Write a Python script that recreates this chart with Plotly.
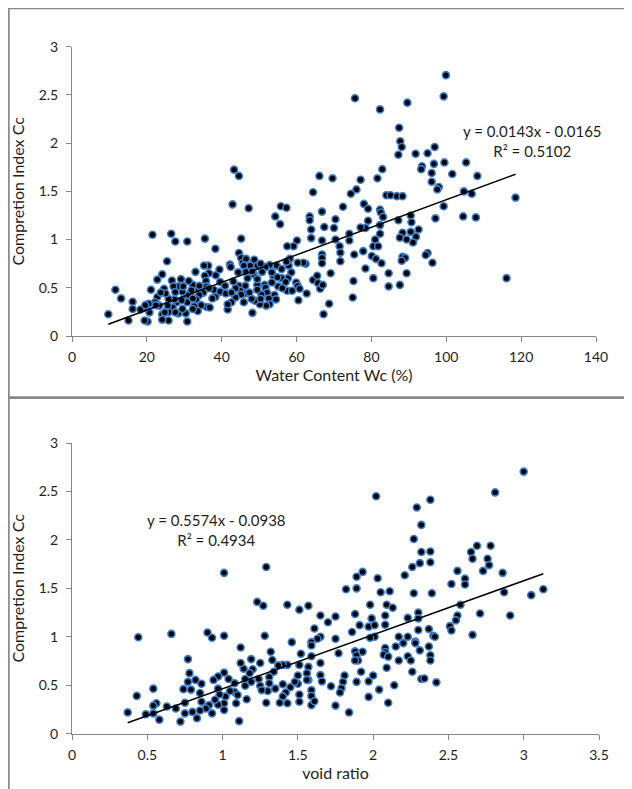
import numpy as np
import plotly.graph_objects as go

# ---------------- data: top panel (water content vs Cc) ----------------
wc = [99.9, 99.3, 75.6, 82.3, 89.6, 87.4, 87.7, 88.1, 87.2, 91.8, 95.0, 96.9, 99.5, 105.3, 96.7,
      93.5, 93.3, 96.1, 101.6, 108.3, 96.1, 98.0, 97.6, 104.7, 106.8, 99.3, 118.5, 104.5, 107.9,
      97.1, 116.1, 82.9, 81.6, 77.1, 76.0, 74.5, 84.0, 85.1, 86.8, 88.3, 78.0, 79.1, 82.3, 82.5,
      72.4, 83.1, 90.5, 90.7, 87.2, 79.1, 78.4, 77.1, 82.3, 82.3, 92.6, 91.9, 91.1, 90.5, 88.3,
      87.6, 89.4, 81.0, 80.5, 81.8, 74.1, 74.1, 77.8, 80.1, 81.2, 88.3, 89.0, 88.1, 95.0, 94.5,
      96.3, 75.4, 75.2, 75.0, 82.7, 78.4, 80.5, 84.6, 89.4, 84.6, 87.6,
      66.1, 69.6, 64.4, 63.5, 63.5, 63.9, 63.9, 66.8, 67.4, 70.0, 70.4, 66.8, 70.4, 71.5, 71.7,
      71.7, 66.8, 66.8, 66.8, 64.4, 65.5, 65.7, 66.3, 67.0, 69.1, 68.7, 67.2, 62.7, 62.4, 61.8,
      60.1, 59.2, 57.5, 55.8, 57.3, 54.3, 55.6, 58.2, 57.9, 58.6, 57.7, 56.0, 57.1, 57.5, 58.8,
      59.9, 60.3, 60.8, 60.5, 60.3, 54.7, 53.8, 53.4, 55.1, 54.1, 54.5, 52.8, 51.7, 50.8, 51.5,
      51.7, 52.1, 52.6, 52.8, 51.9, 50.2, 50.6, 49.5, 48.7, 47.6, 48.5, 49.5, 46.9, 46.3, 45.9,
      48.2, 48.9, 47.2, 45.2, 44.6, 43.3, 42.9, 44.6, 45.2, 45.6, 46.5, 45.9, 42.2, 42.4, 43.1,
      44.6, 45.0, 45.2, 43.7, 42.6, 41.6, 41.6, 43.7, 39.6, 38.4, 39.4, 38.8, 38.3, 37.9, 38.3,
      36.6, 36.4, 35.3, 35.5, 35.5, 35.8, 36.0, 35.1, 36.0, 34.5, 36.8, 33.0, 32.3, 33.8, 34.0,
      33.2, 32.7, 33.6, 32.3, 31.2, 30.6, 30.8, 30.8, 30.4, 30.8, 29.5, 29.1, 28.4, 28.0, 28.4,
      27.6, 26.5, 26.7, 27.1, 27.6, 27.4, 26.9, 25.8, 25.8, 25.4, 25.8, 24.6, 24.1, 24.1, 24.1,
      23.3, 22.8, 22.8, 22.2, 21.5, 21.1, 20.7, 20.2, 20.5, 19.4, 19.6, 18.3, 16.2, 16.2, 15.1,
      13.1, 11.6, 9.7, 19.6,
      29.5, 31.2, 31.9, 29.7, 25.6, 25.0, 23.7, 22.4, 24.8, 27.6, 29.3, 32.3, 34.0, 36.6, 37.5,
      39.6, 40.9, 41.1, 42.6, 46.3, 47.4, 49.5, 50.4, 48.0, 44.4, 46.5, 48.2, 49.5, 50.4, 53.4,
      56.0, 56.2, 54.9, 57.3]
cc_wc = [2.705, 2.485, 2.465, 2.35, 2.42, 2.16, 2.02, 1.96, 1.88, 1.89, 1.895, 1.96, 1.80, 1.80, 1.785,
         1.76, 1.73, 1.69, 1.68, 1.66, 1.60, 1.545, 1.52, 1.50, 1.475, 1.345, 1.435, 1.24, 1.23,
         1.22, 0.60, 1.73, 1.635, 1.62, 1.52, 1.475, 1.46, 1.46, 1.45, 1.45, 1.37, 1.32, 1.31, 1.28,
         1.34, 1.235, 1.25, 1.18, 1.20, 1.195, 1.12, 1.125, 1.15, 1.06, 1.105, 1.03, 0.97, 1.08, 1.07,
         1.02, 1.00, 1.00, 0.93, 0.93, 0.99, 1.06, 0.88, 0.83, 0.80, 0.82, 0.81, 0.78, 0.86, 0.84,
         0.76, 0.845, 0.57, 0.40, 0.755, 0.70, 0.60, 0.65, 0.65, 0.515, 0.53,
         1.66, 1.635, 1.49, 1.24, 1.20, 1.105, 1.015, 1.29, 1.13, 1.12, 1.21, 0.99, 1.00, 0.93, 0.865,
         0.775, 0.845, 0.81, 0.755, 0.58, 0.625, 0.55, 0.49, 0.53, 0.65, 0.335, 0.225, 0.44, 0.75, 0.76,
         0.99, 0.93, 0.93, 1.345, 1.33, 1.24, 1.16, 0.80, 0.73, 0.66, 0.60, 0.60, 0.56, 0.47, 0.47,
         0.555, 0.52, 0.49, 0.37, 0.76, 0.73, 0.625, 0.555, 0.515, 0.425, 0.38, 0.735, 0.715, 0.665, 0.53,
         0.50, 0.45, 0.39, 0.33, 0.315, 0.33, 0.43, 0.53, 0.79, 0.73, 0.64, 0.59, 0.60, 0.44, 0.35,
         0.24, 0.365, 1.325, 1.01, 1.66, 1.725, 1.365, 0.86, 0.81, 0.76, 0.80, 0.73, 0.74, 0.715, 0.565,
         0.52, 0.47, 0.43, 0.40, 0.35, 0.275, 0.33, 0.495, 0.56, 0.63, 0.69, 0.44, 0.405, 0.48, 0.905,
         0.65, 0.73, 0.73, 1.01, 0.625, 0.57, 0.515, 0.45, 0.30, 0.32, 0.295, 0.665, 0.53, 0.49, 0.425,
         0.38, 0.31, 0.26, 0.28, 0.57, 0.42, 0.35, 0.15, 0.235, 0.98, 0.46, 0.59, 0.515, 0.35, 0.235,
         0.98, 1.06, 0.575, 0.515, 0.455, 0.38, 0.295, 0.25, 0.16, 0.775, 0.385, 0.49, 0.64, 0.225, 0.17,
         0.315, 0.585, 0.405, 0.35, 1.05, 0.48, 0.245, 0.15, 0.335, 0.16, 0.29, 0.275, 0.355, 0.28, 0.16,
         0.39, 0.48, 0.225, 0.32,
         0.28, 0.425, 0.475, 0.515, 0.315, 0.44, 0.45, 0.32, 0.245, 0.245, 0.37, 0.39, 0.52, 0.495, 0.39,
         0.46, 0.52, 0.44, 0.45, 0.52, 0.45, 0.48, 0.385, 0.385, 0.66, 0.665, 0.67, 0.73, 0.75, 0.66,
         0.695, 0.495, 0.61, 0.77]

# ---------------- data: bottom panel (void ratio vs Cc) ----------------
e0 = [3.00, 2.81, 2.02, 2.38, 2.29, 2.32, 2.27, 2.32, 2.38, 2.38, 2.31, 2.26, 2.69, 2.78, 2.65,
      2.66, 2.76, 2.77, 2.73, 2.86, 2.56, 2.61, 2.61, 2.52, 2.87, 3.13, 3.05, 2.39, 2.27, 2.58,
      2.56, 2.55, 2.71, 2.91, 2.51, 2.52, 2.66, 2.30, 2.30, 2.23, 2.21, 2.37, 2.30, 2.40, 2.41,
      2.23, 2.17, 2.20, 2.28, 2.28, 2.37, 2.38, 2.38, 2.31, 2.23, 2.25, 2.26, 2.32, 2.34, 2.42,
      2.17, 2.15, 2.08, 2.08, 2.07, 2.10, 2.09, 2.14, 2.10, 2.04, 1.97, 2.00, 1.97, 2.08, 2.08,
      2.09, 2.13, 2.11, 2.05, 2.03, 1.98, 1.99, 1.97, 2.01, 2.01, 1.98, 1.93, 1.89, 1.89, 1.82,
      1.88, 1.91, 1.86, 1.88, 1.89, 1.90, 1.93, 1.88, 1.92, 1.89, 1.81, 1.80, 1.79, 1.78, 1.84,
      1.75, 1.72, 1.77, 1.75, 1.75, 1.70, 1.65, 1.65, 1.63, 1.61, 1.59, 1.59, 1.65, 1.65, 1.66,
      1.59, 1.57, 1.56, 1.57, 1.59, 1.59, 1.59, 1.61, 1.51, 1.51, 1.50, 1.50, 1.51, 1.51, 1.57,
      1.43, 1.46, 1.43, 1.45, 1.43, 1.42, 1.40, 1.40, 1.40, 1.38, 1.34, 1.32, 1.33, 1.31, 1.31,
      1.30, 1.29, 1.28, 1.27, 1.29, 1.23, 1.25, 1.24, 1.25, 1.20, 1.19, 1.18, 1.16, 1.12, 1.15,
      1.15, 1.14, 1.12, 1.11, 1.09, 1.08, 1.08, 1.04, 1.01, 1.01, 1.01, 1.02, 1.01, 1.01, 0.97,
      0.97, 0.97, 0.94, 0.93, 0.90, 0.93, 0.91, 0.89, 0.86, 0.85, 0.86, 0.85, 0.83, 0.80, 0.82,
      0.79, 0.78, 0.77, 0.77, 0.75, 0.75, 0.74, 0.72, 0.69, 0.66, 0.63, 0.58, 0.56, 0.54, 0.54,
      0.54, 0.49, 0.44, 0.43, 0.37,
      0.98, 0.95, 1.05, 1.10, 1.19, 1.26, 1.35, 1.37, 1.48, 1.52, 1.56]
cc_e = [2.705, 2.49, 2.45, 2.415, 2.335, 2.155, 2.01, 1.875, 1.88, 1.77, 1.76, 1.72, 1.94, 1.94, 1.875,
        1.805, 1.805, 1.74, 1.68, 1.66, 1.68, 1.60, 1.54, 1.545, 1.46, 1.49, 1.43, 1.45, 1.45, 1.33,
        1.22, 1.17, 1.24, 1.22, 1.11, 1.065, 1.02, 1.25, 1.19, 1.195, 1.635, 1.08, 1.07, 1.01, 1.00,
        1.00, 1.00, 0.935, 0.95, 0.935, 0.90, 0.81, 0.755, 0.86, 0.80, 0.755, 0.64, 0.565, 0.57, 0.53,
        0.755, 0.90, 0.885, 0.84, 0.815, 0.795, 0.68, 0.50, 0.32, 0.455, 0.38, 0.60, 0.54, 1.125, 1.22,
        1.33, 1.30, 1.47, 1.46, 1.605, 1.33, 1.19, 1.105, 1.12, 1.00, 0.99, 1.67, 1.62, 1.50, 1.49,
        1.235, 1.12, 1.05, 0.85, 0.81, 0.755, 0.845, 0.755, 0.64, 0.535, 0.60, 0.535, 0.47, 0.425, 0.22,
        0.29, 0.49, 0.83, 0.98, 1.21, 1.15, 1.22, 1.00, 0.98, 1.085, 0.945, 0.91, 0.73, 0.605, 0.54,
        0.80, 0.69, 0.625, 0.555, 0.45, 0.39, 0.295, 0.335, 0.405, 0.33, 0.515, 0.60, 0.71, 1.28, 1.32,
        1.33, 0.945, 0.71, 0.48, 0.315, 0.425, 0.51, 0.71, 0.385, 0.32, 0.64, 0.845, 0.76, 0.585, 0.52,
        0.44, 0.32, 1.01, 1.32, 1.72, 1.36, 0.73, 0.565, 0.495, 0.665, 0.77, 0.625, 0.355, 0.89, 0.495,
        0.565, 0.67, 0.73, 0.13, 0.315, 0.43, 0.52, 0.565, 0.63, 1.01, 1.66, 0.385, 0.315, 0.245, 0.30,
        0.465, 0.59, 0.555, 0.99, 1.045, 0.21, 0.295, 0.26, 0.515, 0.42, 0.33, 0.24, 0.16, 0.225, 0.555,
        0.455, 0.625, 0.77, 0.535, 0.32, 0.21, 0.46, 0.125, 0.26, 1.03, 0.28, 0.145, 0.315, 0.465, 0.29,
        0.21, 0.20, 0.995, 0.39, 0.22,
        0.405, 0.35, 0.44, 0.40, 0.535, 0.45, 0.465, 0.705, 0.535, 0.825, 0.555]

x1_ticks = [0, 20, 40, 60, 80, 100, 120, 140]
x2_ticks = [0, 0.5, 1, 1.5, 2, 2.5, 3, 3.5]
y_ticks = [0, 0.5, 1, 1.5, 2, 2.5, 3]

fit1 = (0.0143, -0.0165, "0.5102")
fit2 = (0.5574, -0.0938, "0.4934")

# ---------------- styling ----------------
OFF = 8                     # page body margin of the browser
W, H = 632 - OFF, 789 - OFF
FONT = "Lato, 'Open Sans', 'DejaVu Sans', sans-serif"
AXC = "#868686"
TXT = "#1e1e1e"
MK = dict(color="#000000", size=7, line=dict(color="#3f7dc8", width=1.6))


def px_x(p):
    return (p - OFF) / W


def px_y(p):
    return 1 - (p - OFF) / H


fig = go.Figure()

for (xs, ys, fit, xa, ya) in [(wc, cc_wc, fit1, "x", "y"), (e0, cc_e, fit2, "x2", "y2")]:
    fig.add_trace(go.Scatter(x=xs, y=ys, mode="markers", marker=MK, xaxis=xa, yaxis=ya,
                             showlegend=False, hoverinfo="x+y"))
    xl = np.array([min(xs), max(xs)])
    fig.add_trace(go.Scatter(x=xl, y=fit[0] * xl + fit[1], mode="lines",
                             line=dict(color="black", width=1.5), xaxis=xa, yaxis=ya,
                             showlegend=False, hoverinfo="skip"))

common_axis = dict(showgrid=False, zeroline=False, showline=True, linecolor=AXC, linewidth=1,
                   ticks="outside", ticklen=5, tickcolor=AXC, tickwidth=1,
                   tickfont=dict(family=FONT, size=14, color=TXT), automargin=False)
xt = dict(ticklabelstandoff=3)
yt = dict(ticklabelstandoff=5)
title_font = dict(family=FONT, size=16, color=TXT)

fig.update_layout(
    width=W, height=H, paper_bgcolor="white", plot_bgcolor="white",
    margin=dict(l=0, r=0, t=0, b=0),
    font=dict(family=FONT, color=TXT),
    xaxis=dict(domain=[px_x(72), px_x(596)], range=[0, 140], tickvals=x1_ticks,
               anchor="y", title=dict(text="Water Content Wc (%)", font=title_font, standoff=6),
               **common_axis, **xt),
    yaxis=dict(domain=[px_y(336), px_y(46.7)], range=[0, 3], tickvals=y_ticks,
               anchor="x", title=dict(text="Compretion Index Cc", font=title_font, standoff=10),
               **common_axis, **yt),
    xaxis2=dict(domain=[px_x(72), px_x(599)], range=[0, 3.5], tickvals=x2_ticks,
                anchor="y2", title=dict(text="void ratio", font=title_font, standoff=6),
                **common_axis, **xt),
    yaxis2=dict(domain=[px_y(733.7), px_y(443)], range=[0, 3], tickvals=y_ticks,
                anchor="x2", title=dict(text="Compretion Index Cc", font=title_font, standoff=10),
                **common_axis, **yt),
)


def eq_text(fit):
    sign = "-" if fit[1] < 0 else "+"
    return f"y = {fit[0]:.4f}x {sign} {abs(fit[1]):.4f}<br>R² = {fit[2]}"


for (fit, cx, cy) in [(fit1, 532, 141), (fit2, 216, 530)]:
    fig.add_annotation(x=px_x(cx), y=px_y(cy), xref="paper", yref="paper", text=eq_text(fit),
                       showarrow=False, align="center", xanchor="center", yanchor="middle",
                       font=dict(family=FONT, size=15, color=TXT))

# panel borders
BC = "#888888"
fig.add_shape(type="line", xref="paper", yref="paper", x0=0, x1=1, y0=1 - 0.6 / H, y1=1 - 0.6 / H,
              line=dict(color=BC, width=1.2))
fig.add_shape(type="line", xref="paper", yref="paper", x0=0.9 / W, x1=0.9 / W, y0=1, y1=0,
              line=dict(color=BC, width=1.7))
fig.add_shape(type="line", xref="paper", yref="paper", x0=0, x1=1, y0=px_y(397.7), y1=px_y(397.7),
              line=dict(color=BC, width=2.7))

fig.write_html("out.html")
